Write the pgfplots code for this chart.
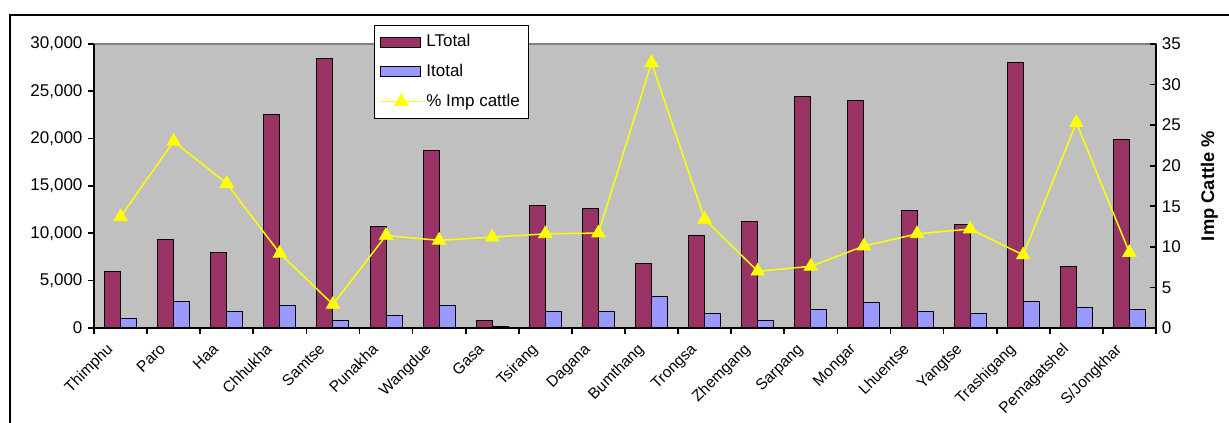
\documentclass[border=0pt]{standalone}
\usepackage{fontspec}
\setmainfont{Liberation Sans}
\usepackage{pgfplots}
\usepackage{pgfplotstable}
\pgfplotsset{compat=1.18}
\definecolor{ltot}{HTML}{993366}
\definecolor{itot}{HTML}{9999FF}
\definecolor{plotgray}{HTML}{C0C0C0}
\definecolor{impyel}{HTML}{FFFF00}

\pgfplotsset{
  barleg/.style={legend image code/.code={\draw[##1] (0pt,-3pt) rectangle (24pt,3pt);}},
  lineleg/.style={legend image code/.code={\draw[mark repeat=2, mark phase=2, ##1] plot coordinates {(0pt,0pt) (12.5pt,0pt) (25pt,0pt)};}},
}

% Livestock by dzongkhag: local and improved cattle totals, % improved
\pgfplotstableread{
idx name LTotal Itotal Imp
0  Thimphu     5980  980  13.7
1  Paro        9320  2810 23.0
2  Haa         7950  1690 17.8
3  Chhukha     22500 2360 9.2
4  Samtse      28500 840  2.9
5  Punakha     10760 1340 11.4
6  Wangdue     18750 2360 10.8
7  Gasa        840   140  11.2
8  Tsirang     12940 1690 11.6
9  Dagana      12600 1690 11.7
10 Bumthang    6790  3340 32.7
11 Trongsa     9780  1550 13.4
12 Zhemgang    11300 840  7.0
13 Sarpang     24500 2000 7.6
14 Mongar      24000 2670 10.1
15 Lhuentse    12450 1690 11.6
16 Yangtse     10940 1550 12.2
17 Trashigang  28000 2810 9.0
18 Pemagatshel 6500  2150 25.3
19 S/Jongkhar  19870 2000 9.3
}\dzdata

\begin{document}
\begin{tikzpicture}
\useasboundingbox (-56.4pt,-57pt) rectangle (681pt,196.8pt);
\draw[line width=1.2pt] (-50.4pt,-80pt) -- (-50.4pt,187.8pt) -- (720pt,187.8pt);

\pgfplotsset{
  common/.style={
    at={(0pt,0pt)}, anchor=south west,
    scale only axis, width=637.2pt, height=170.4pt,
    xmin=-0.5, xmax=19.5,
    axis line style={line width=1pt, black},
    tick label style={font=\fontsize{10.2}{12}\selectfont},
    /pgf/number format/assume math mode=true,
    clip=false,
    major tick length=3.4pt,
    tick style={black, line width=1pt},
  },
}

\begin{axis}[common,
  ymin=0, ymax=30000,
  axis x line*=bottom, axis y line*=left,
  xtick align=outside, ytick align=outside,
  axis background/.style={fill=plotgray, draw=gray, line width=0.8pt},
  ytick={0,5000,...,30000},
  scaled y ticks=false,
  yticklabel style={/pgf/number format/1000 sep={,}},
  xtick={-0.5,0.5,...,19.5},
  xticklabels={},
  extra x ticks={0,...,19},
  extra x tick labels={Thimphu,Paro,Haa,Chhukha,Samtse,Punakha,Wangdue,Gasa,Tsirang,Dagana,
    Bumthang,Trongsa,Zhemgang,Sarpang,Mongar,Lhuentse,Yangtse,Trashigang,Pemagatshel,S/Jongkhar},
  extra x tick style={major tick length=0pt},
  xticklabel style={rotate=45, anchor=north east, font=\fontsize{9.3}{10}\selectfont,
    xshift=-9pt, yshift=3.8pt},
]
\addplot[ybar, bar width=9.6pt, bar shift=-4.8pt, fill=ltot, draw=black, line width=0.6pt]
  table[x=idx, y=LTotal]{\dzdata};
\addplot[ybar, bar width=9.6pt, bar shift=4.8pt, fill=itot, draw=black, line width=0.6pt]
  table[x=idx, y=Itotal]{\dzdata};
\end{axis}

\begin{axis}[common,
  ymin=0, ymax=35,
  axis x line=none, axis y line*=right,
  ytick align=inside,
  ytick={0,5,...,35},
  ylabel={\bfseries Imp Cattle \%},
  ylabel style={at={(rel axis cs:1,0.5)}, anchor=center, yshift=-32pt, font=\fontsize{11}{12}\selectfont},
  legend style={at={(rel axis cs:0.264,1.067)}, anchor=north west, draw=black, line width=0.6pt,
    fill=white, font=\fontsize{10.2}{12}\selectfont, row sep=5pt, inner xsep=3pt, inner ysep=3.5pt},
  legend cell align=left,
]
\addlegendimage{barleg, fill=ltot, draw=black, line width=0.6pt}
\addlegendimage{barleg, fill=itot, draw=black, line width=0.6pt}
\addplot[lineleg, impyel, line width=0.9pt, mark=triangle*, mark size=4.6pt,
  mark options={fill=impyel, draw=impyel, line width=0.5pt}]
  table[x=idx, y=Imp]{\dzdata};
\legend{LTotal, Itotal, \% Imp cattle}
\end{axis}
\end{tikzpicture}
\end{document}
